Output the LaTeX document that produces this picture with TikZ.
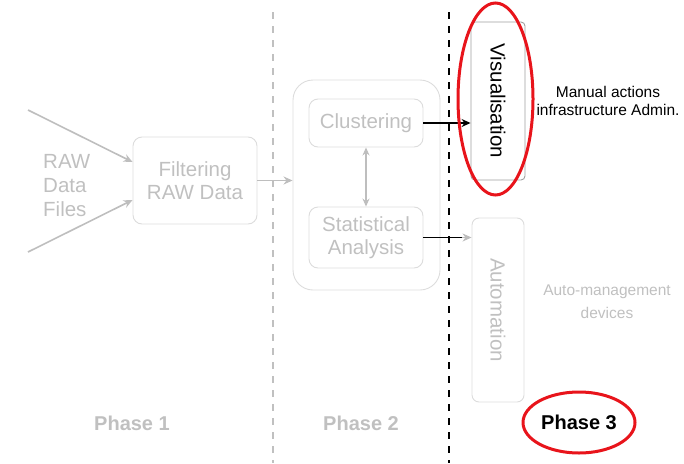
\documentclass[tikz,border=0pt]{standalone}
\usepackage{fontspec}
\setmainfont{Liberation Sans}
\usetikzlibrary{arrows.meta,shapes.geometric,calc}
\definecolor{ltxt}{HTML}{C0C0C0}
\definecolor{lbox}{HTML}{DCDCDC}
\definecolor{larr}{HTML}{BEBEBE}
\definecolor{redc}{HTML}{E8141B}
\tikzset{
  gbox/.style={draw=lbox, line width=0.9pt, rounded corners=9pt, inner sep=0pt, text=ltxt, font=\fontsize{20.5}{23}\selectfont, align=center},
  garrow/.style={draw=larr, line width=1.6pt, -{Stealth[length=9pt,width=8pt]}},
  phaselbl/.style={font=\fontsize{20}{24}\selectfont\bfseries, text=ltxt},
  sidetxt/.style={font=\fontsize{15.5}{18}\selectfont, align=center},
}
\begin{document}
\begin{tikzpicture}[x=1pt,y=-1pt]
\useasboundingbox (0,0) rectangle (684,463);
% phase separators
\draw[ltxt, line width=1.6pt, dash pattern=on 7pt off 7pt] (273,12) -- (273,463);
\draw[black, line width=2pt, dash pattern=on 7pt off 7pt] (449,12) -- (449,463);
% phase 1
\node[gbox, minimum width=124pt, minimum height=87pt] (filt) at (195,180.5) {Filtering\\RAW Data};
\node[anchor=west, align=left, text=ltxt, font=\fontsize{20.5}{24}\selectfont, inner sep=0pt] (raw) at (43,186) {RAW\\Data\\Files};
\coordinate (in1) at (28,110);
\coordinate (in2) at (28,252);
\draw[garrow] (in1) -- (filt.west |- 0,162);
\draw[garrow] (in2) -- (filt.west |- 0,200);
% phase 2
\node[gbox, rounded corners=20pt, minimum width=147pt, minimum height=210pt] (p2) at (366.5,185) {};
\node[gbox, minimum width=114pt, minimum height=48pt] (clus) at (366,123) {Clustering};
\node[gbox, minimum width=114pt, minimum height=61pt] (stat) at (366,237.5) {Statistical\\Analysis};
\draw[draw=larr, line width=1.4pt, {Stealth[length=8pt,width=7pt]}-{Stealth[length=8pt,width=7pt]}] (clus.south) -- (stat.north);
\draw[garrow] (filt.east) -- (filt.east -| p2.west);
% phase 3
\node[draw=gray!75, line width=0.9pt, rounded corners=4pt, minimum width=54pt, minimum height=158pt, inner sep=0pt] (vis) at (498,101) {};
\node[rotate=-90, font=\fontsize{20.5}{24}\selectfont, inner sep=0pt] (vistxt) at (vis.center) {Visualisation};
\node[gbox, rounded corners=7pt, minimum width=52pt, minimum height=184pt] (auto) at (498,310) {};
\node[rotate=-90, font=\fontsize{20.5}{24}\selectfont, text=ltxt, inner sep=0pt] (autotxt) at (auto.center) {Automation};
\draw[black, line width=1.3pt, -{Stealth[length=9pt,width=8pt]}] (clus.east) -- (clus.east -| vis.west);
\draw[black, line width=1.3pt] (stat.east) -- ($(stat.east -| auto.west)+(-8,0)$);
\draw[draw=larr, line width=1.3pt, -{Stealth[length=9pt,width=8pt]}] ($(stat.east -| auto.west)+(-10,0)$) -- (stat.east -| auto.west);
\node[sidetxt] (manual) at (608,101) {Manual actions\\infrastructure Admin.};
\node[sidetxt, text=ltxt, font=\fontsize{15.5}{23}\selectfont] (autom) at (607,301.5) {Auto-management\\devices};
\draw[redc, line width=3pt] (495.5,99) ellipse [x radius=37.5, y radius=96];
% phase labels
\node[phaselbl] (ph1) at (132,423) {Phase 1};
\node[phaselbl] (ph2) at (361,423) {Phase 2};
\node[phaselbl, text=black, draw=redc, line width=3pt, ellipse, minimum width=112pt, minimum height=61pt, inner sep=0pt] (ph3) at (579,422.5) {Phase 3};
\end{tikzpicture}
\end{document}
